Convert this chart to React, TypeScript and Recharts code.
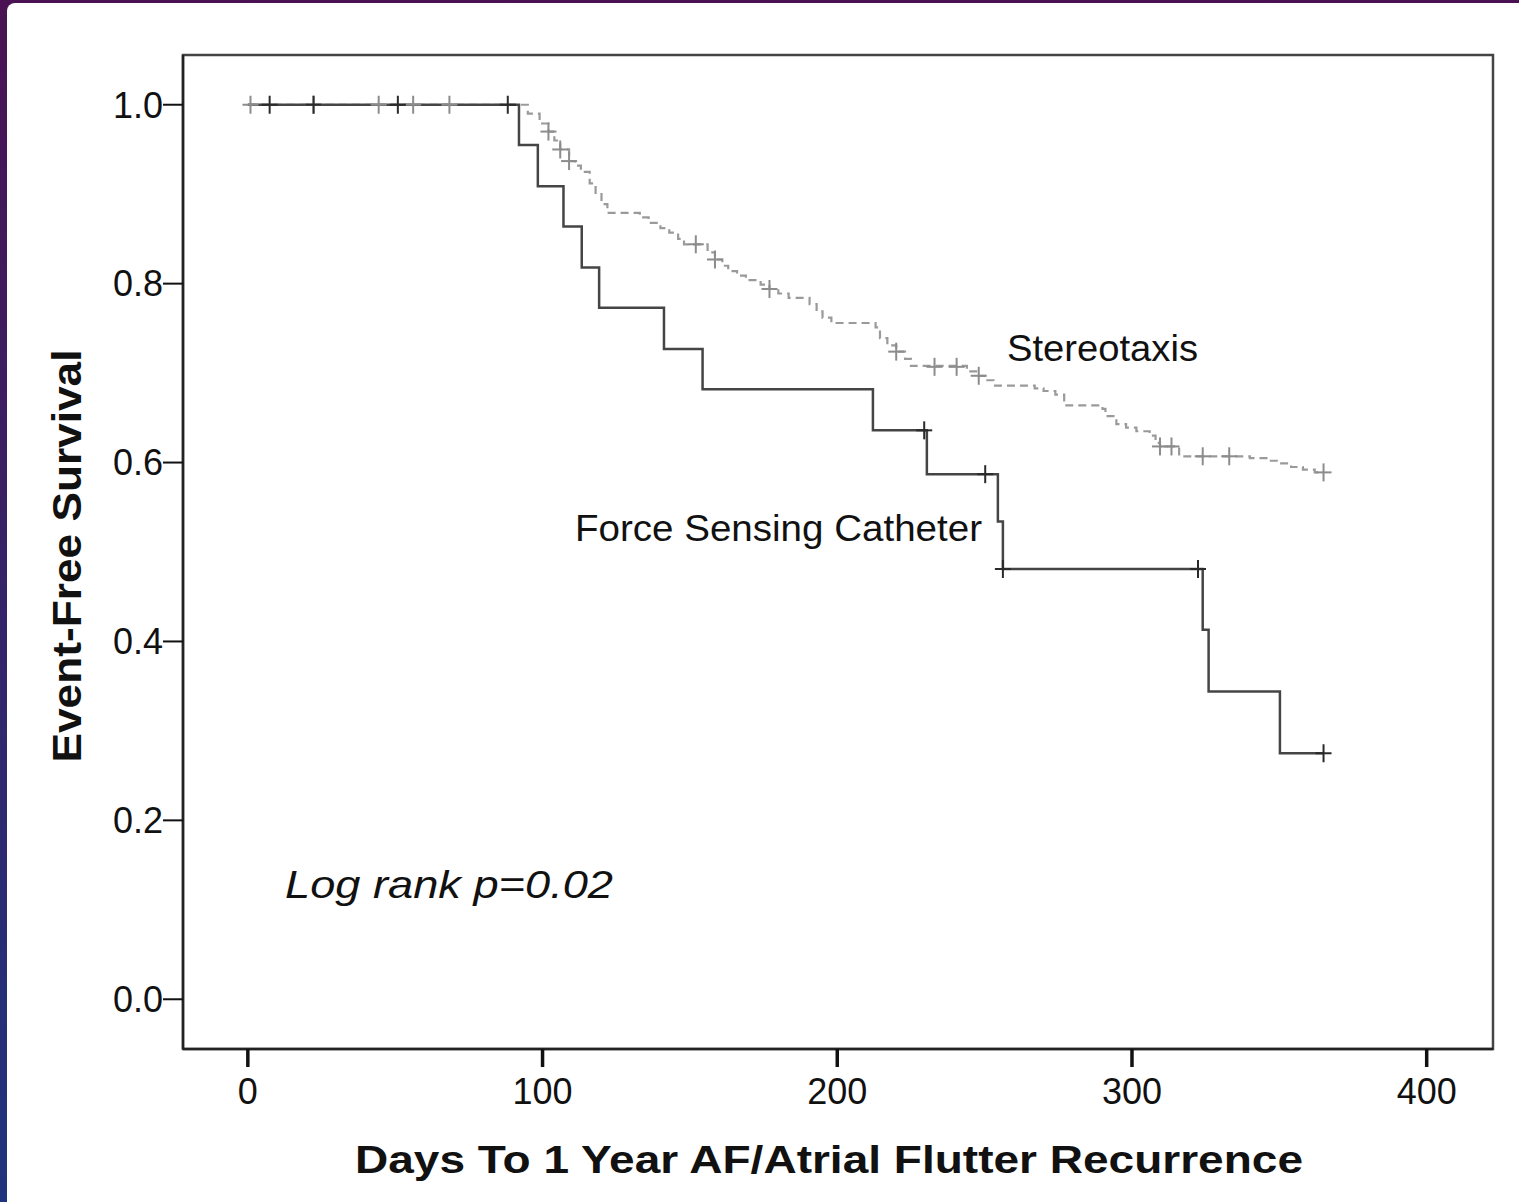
import { ComposedChart, Line, Scatter, XAxis, YAxis, ReferenceArea } from 'recharts'

// Kaplan-Meier steps (days, survival)
const forceDays = [0, 92, 98.4, 107.1, 113.3, 119.2, 141.2, 154.3, 212.1, 230.4, 254.5, 256.2, 324, 326, 350.2, 365]
const forceSurv = [1.0, 0.955, 0.909, 0.864, 0.818, 0.773, 0.727, 0.682, 0.636, 0.587, 0.534, 0.481, 0.413, 0.344, 0.275, 0.275]

const stereoDays = [0, 92, 95, 99, 102, 104, 106, 109, 111, 113, 116, 118, 120, 122, 133, 136, 140, 143, 146, 148, 156, 158.5, 161, 163, 166, 169, 174, 177, 180, 183.5, 190.6, 193, 195, 198, 213, 214.5, 217, 220, 223, 225, 244, 248, 250, 253, 267, 270, 274, 277, 290, 291, 294.7, 298, 301.5, 306, 308, 309.5, 316, 340, 345.6, 350, 354, 358, 362, 365]
const stereoSurv = [1.0, 1.0, 0.99, 0.979, 0.97, 0.96, 0.95, 0.937, 0.932, 0.925, 0.912, 0.9, 0.889, 0.879, 0.874, 0.868, 0.862, 0.857, 0.85, 0.844, 0.835, 0.827, 0.82, 0.814, 0.809, 0.804, 0.799, 0.794, 0.789, 0.784, 0.777, 0.769, 0.762, 0.756, 0.751, 0.739, 0.731, 0.724, 0.716, 0.708, 0.702, 0.697, 0.692, 0.686, 0.683, 0.68, 0.676, 0.664, 0.66, 0.652, 0.643, 0.639, 0.635, 0.63, 0.622, 0.618, 0.607, 0.605, 0.602, 0.599, 0.595, 0.592, 0.589, 0.589]

// censored observations
const forceCensDays = [7.4, 22.3, 50.9, 88.2, 229.5, 250.2, 256.2, 322.4, 365]
const forceCensSurv = [1.0, 1.0, 1.0, 1.0, 0.636, 0.587, 0.481, 0.481, 0.275]
const stereoCensDays = [0.9, 22.3, 44.4, 56.1, 68.4, 102, 106, 109, 152, 158.5, 177, 220, 233, 240.5, 248, 309.5, 313.4, 324, 333, 365]
const stereoCensSurv = [1.0, 1.0, 1.0, 1.0, 1.0, 0.97, 0.95, 0.937, 0.844, 0.827, 0.794, 0.724, 0.707, 0.707, 0.697, 0.618, 0.618, 0.607, 0.607, 0.589]

const xTicks = [0, 100, 200, 300, 400]
const yTicks = [0, 0.2, 0.4, 0.6, 0.8, 1.0]

const X_DOM: [number, number] = [-22, 422.5]
const Y_DOM: [number, number] = [-0.0556, 1.0556]

const zip = (t: number[], s: number[]) => t.map((v, i) => ({ t: v, s: s[i] }))
const forceData = zip(forceDays, forceSurv)
const stereoData = zip(stereoDays, stereoSurv)
const forceCens = zip(forceCensDays, forceCensSurv)
const stereoCens = zip(stereoCensDays, stereoCensSurv)

const FONT = '"Liberation Sans", Arial, sans-serif'
const W = 1519
const H = 1202

const cross = (color: string) => (p: any) => (
  <g stroke={color} strokeWidth={2}>
    <line x1={p.cx - 8} x2={p.cx + 8} y1={p.cy} y2={p.cy} />
    <line x1={p.cx} x2={p.cx} y1={p.cy - 9} y2={p.cy + 9} />
  </g>
)

export default function App() {
  const tickStyle = { fontSize: 36, fill: '#111', fontFamily: FONT }
  return (
    <div style={{ position: 'absolute', left: 0, top: 0, width: W, height: H, background: 'linear-gradient(to bottom, #4a1252, #1f347e)' }}>
      <div style={{ position: 'absolute', left: 7, top: 3, right: 0, bottom: 0, background: '#fff', borderTopLeftRadius: 8 }} />
      <div style={{ position: 'absolute', left: 0, top: 0 }}>
        <ComposedChart width={W} height={H} margin={{ top: 55, right: 26, left: 0, bottom: 0 }}>
          <XAxis type="number" dataKey="t" domain={X_DOM} ticks={xTicks} allowDataOverflow height={153}
            stroke="#222" strokeWidth={2.5} tickSize={18} tickMargin={11} tick={tickStyle}
            tickLine={{ strokeWidth: 3.5, stroke: '#111' }} />
          <YAxis type="number" dataKey="s" domain={Y_DOM} ticks={yTicks} allowDataOverflow width={183}
            stroke="#222" strokeWidth={2.5} tickSize={20} tickMargin={0} tick={tickStyle}
            tickLine={{ strokeWidth: 2, stroke: '#111' }}
            tickFormatter={(v: number) => v.toFixed(1)} />
          <ReferenceArea x1={X_DOM[0]} x2={X_DOM[1]} y1={Y_DOM[0]} y2={Y_DOM[1]} fill="none" stroke="#444" strokeWidth={2.5} />
          <Line data={stereoData} dataKey="s" type="stepAfter" stroke="#9a9a9a" strokeWidth={2.2}
            strokeDasharray="8 5" dot={false} activeDot={false} isAnimationActive={false} />
          <Line data={forceData} dataKey="s" type="stepAfter" stroke="#454545" strokeWidth={2.5}
            dot={false} activeDot={false} isAnimationActive={false} />
          <Scatter data={stereoCens} dataKey="s" shape={cross('#8c8c8c')} isAnimationActive={false} />
          <Scatter data={forceCens} dataKey="s" shape={cross('#2a2a2a')} isAnimationActive={false} />
        </ComposedChart>
      </div>
      <svg width={W} height={H} style={{ position: 'absolute', left: 0, top: 0, pointerEvents: 'none' }} fontFamily={FONT} fill="#111">
        <text x={1007} y={361} fontSize={36} textLength={191} lengthAdjust="spacingAndGlyphs">Stereotaxis</text>
        <text x={575} y={541} fontSize={36} textLength={407} lengthAdjust="spacingAndGlyphs">Force Sensing Catheter</text>
        <text x={285} y={898} fontSize={38} fontStyle="italic" textLength={328} lengthAdjust="spacingAndGlyphs">Log rank p=0.02</text>
        <text x={355} y={1173} fontSize={39} fontWeight="bold" textLength={948} lengthAdjust="spacingAndGlyphs">Days To 1 Year AF/Atrial Flutter Recurrence</text>
        <text transform="translate(81,556) rotate(-90)" textAnchor="middle" fontSize={40} fontWeight="bold" textLength={413} lengthAdjust="spacingAndGlyphs">Event-Free Survival</text>
      </svg>
    </div>
  )
}
